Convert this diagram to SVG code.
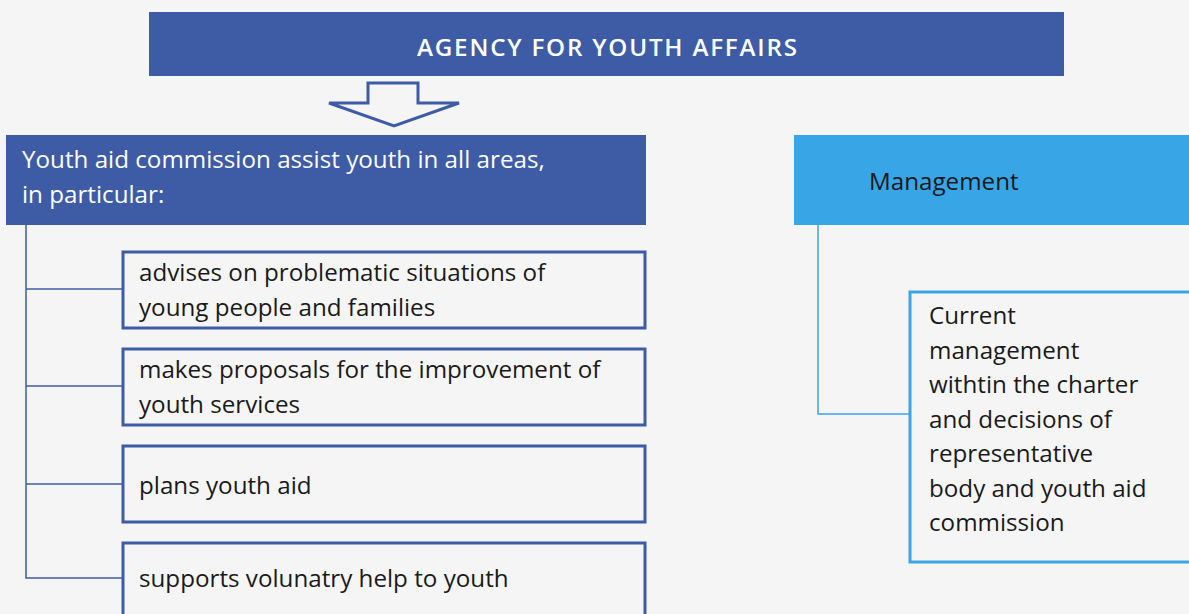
<svg xmlns="http://www.w3.org/2000/svg" width="1189" height="614" viewBox="0 0 1189 614">
<style>
.t{font-family:"Open Sans","Noto Sans","Liberation Sans",sans-serif;font-size:24.2px;fill:#1a1a1a}
.w{fill:#ffffff}
.dk{fill:#3d5ca5}
.child{fill:none;stroke:#3d5ca5;stroke-width:3}
.childL{fill:none;stroke:#3aa6e6;stroke-width:3}
.conn{fill:none;stroke:#3d5ca5;stroke-width:1.5}
.connL{fill:none;stroke:#3aa6e6;stroke-width:1.5}
</style>
<rect x="0" y="0" width="1189" height="614" fill="#f5f5f5"/>
<g id="agency">
<rect class="dk" x="149" y="12" width="915" height="64"/>
<text class="t w" x="417" y="56" font-weight="600" font-size="25" textLength="380" lengthAdjust="spacing">AGENCY FOR YOUTH AFFAIRS</text>
</g>
<g id="arrow">
<polygon points="368,83 418,83 418,103 459,103 394,126 329,103 368,103" fill="#f5f5f5" stroke="#3d5ca5" stroke-width="3" stroke-linejoin="miter"/>
</g>
<g id="commission">
<rect class="dk" x="6" y="135" width="640" height="90"/>
<text class="t w" x="22" y="168">Youth aid commission assist youth in all areas,</text>
<text class="t w" x="22" y="203">in particular:</text>
</g>
<g id="connectors">
<polyline class="conn" points="26,225 26,578 122,578"/>
<line class="conn" x1="26" y1="289" x2="122" y2="289"/>
<line class="conn" x1="26" y1="386" x2="122" y2="386"/>
<line class="conn" x1="26" y1="484" x2="122" y2="484"/>
<polyline class="connL" points="818,225 818,414 909,414"/>
</g>
<g id="advises">
<rect class="child" x="123" y="252" width="522" height="76"/>
<text class="t" x="139" y="281">advises on problematic situations of</text>
<text class="t" x="139" y="316">young people and families</text>
</g>
<g id="proposals">
<rect class="child" x="123" y="349" width="522" height="76"/>
<text class="t" x="139" y="378">makes proposals for the improvement of</text>
<text class="t" x="139" y="413">youth services</text>
</g>
<g id="plans">
<rect class="child" x="123" y="446" width="522" height="76"/>
<text class="t" x="139" y="494">plans youth aid</text>
</g>
<g id="supports">
<rect class="child" x="123" y="543" width="522" height="80"/>
<text class="t" x="139" y="587">supports volunatry help to youth</text>
</g>
<g id="management">
<rect x="794" y="135" width="400" height="90" fill="#38a6e6"/>
<text class="t" x="869" y="190">Management</text>
</g>
<g id="current">
<rect class="childL" x="910" y="292" width="285" height="270"/>
<text class="t" x="929" y="324">Current</text>
<text class="t" x="929" y="359">management</text>
<text class="t" x="929" y="393">withtin the charter</text>
<text class="t" x="929" y="428">and decisions of</text>
<text class="t" x="929" y="462">representative</text>
<text class="t" x="929" y="497">body and youth aid</text>
<text class="t" x="929" y="531">commission</text>
</g>
</svg>
